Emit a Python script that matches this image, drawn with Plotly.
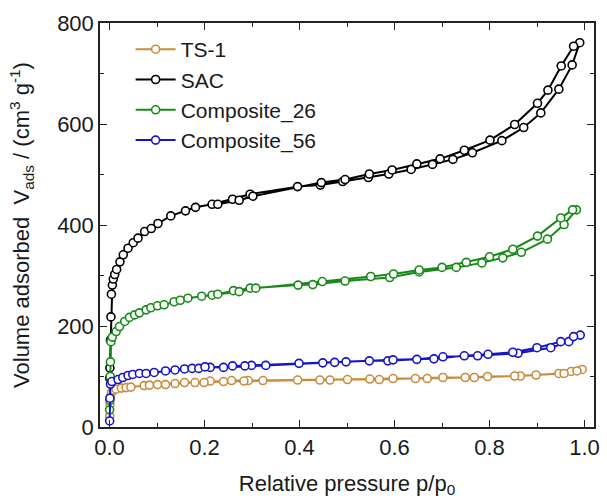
import plotly.graph_objects as go

# N2 physisorption isotherms: adsorption branch (increasing p/p0) and desorption branch
ts1_ads_p = [0.0005, 0.001, 0.002, 0.004, 0.008, 0.014, 0.025, 0.035, 0.045, 0.073, 0.101, 0.138,
             0.180, 0.212, 0.257, 0.292, 0.396, 0.464, 0.548, 0.597, 0.669, 0.749, 0.796, 0.865,
             0.898, 0.946, 0.972, 0.995]
ts1_ads_v = [22, 45, 60, 68, 73, 75, 77, 78, 79, 82, 84, 86, 88, 91, 92, 92, 93, 93, 95, 96, 96,
             98, 100, 101, 103, 106, 110, 114]
ts1_des_p = [0.984, 0.957, 0.853, 0.768, 0.702, 0.644, 0.568, 0.501, 0.443, 0.323, 0.283, 0.240,
             0.199, 0.158, 0.118, 0.084]
ts1_des_v = [111, 106, 101, 98, 98, 96, 94, 94, 93, 92, 91, 90, 88, 88, 84, 83]

sac_ads_p = [0.0003, 0.0008, 0.002, 0.003, 0.004, 0.006, 0.008, 0.011, 0.015, 0.022, 0.029, 0.039,
             0.050, 0.060, 0.074, 0.088, 0.102, 0.129, 0.160, 0.181, 0.216, 0.259, 0.296, 0.396,
             0.444, 0.491, 0.545, 0.588, 0.635, 0.680, 0.723, 0.764, 0.826, 0.872, 0.908, 0.946,
             0.974, 0.990]
sac_ads_v = [97, 117, 172, 218, 263, 281, 293, 302, 312, 327, 341, 354, 365, 374, 387, 393, 403,
             418, 428, 435, 441, 451, 461, 476, 479, 486, 494, 501, 510, 520, 530, 543, 567, 593,
             622, 669, 717, 761]
sac_des_p = [0.977, 0.951, 0.923, 0.901, 0.853, 0.801, 0.747, 0.696, 0.647, 0.595, 0.547, 0.496,
             0.446, 0.302, 0.273, 0.228]
sac_des_v = [754, 715, 667, 641, 599, 568, 548, 531, 521, 509, 501, 490, 484, 457, 449, 441]

c26_ads_p = [0.0003, 0.0008, 0.0015, 0.002, 0.003, 0.006, 0.014, 0.021, 0.032, 0.042, 0.053,
             0.063, 0.077, 0.087, 0.101, 0.115, 0.136, 0.149, 0.165, 0.194, 0.216, 0.261, 0.296,
             0.397, 0.428, 0.496, 0.590, 0.652, 0.730, 0.784, 0.828, 0.867, 0.922, 0.957, 0.983]
c26_ads_v = [34, 53, 100, 129, 169, 178, 189, 199, 209, 217, 222, 226, 232, 236, 240, 242, 248,
             251, 255, 259, 261, 270, 275, 281, 282, 289, 296, 307, 316, 325, 335, 346, 372, 401,
             430]
c26_des_p = [0.975, 0.950, 0.901, 0.849, 0.800, 0.751, 0.700, 0.652, 0.598, 0.550, 0.448, 0.308,
             0.273, 0.228]
c26_des_v = [430, 414, 378, 352, 337, 326, 316, 311, 303, 298, 288, 275, 268, 263]

c56_ads_p = [0.0003, 0.0008, 0.002, 0.005, 0.018, 0.028, 0.039, 0.049, 0.063, 0.077, 0.094,
             0.118, 0.138, 0.158, 0.174, 0.188, 0.212, 0.259, 0.299, 0.399, 0.474, 0.547, 0.586,
             0.647, 0.702, 0.775, 0.860, 0.929, 0.967, 0.991]
c56_ads_v = [12, 57, 85, 90, 94, 98, 102, 104, 106, 106, 108, 111, 113, 115, 116, 116, 118, 121,
             122, 126, 128, 131, 131, 134, 139, 141, 146, 157, 169, 182]
c56_des_p = [0.977, 0.950, 0.900, 0.849, 0.797, 0.747, 0.683, 0.597, 0.498, 0.449, 0.329, 0.285,
             0.240, 0.201]
c56_des_v = [179, 169, 157, 148, 144, 141, 135, 133, 129, 127, 122, 121, 118, 119]

series = [
    ("TS-1", ts1_ads_p, ts1_ads_v, ts1_des_p, ts1_des_v, "#C98B3E"),
    ("SAC", sac_ads_p, sac_ads_v, sac_des_p, sac_des_v, "#000000"),
    ("Composite_26", c26_ads_p, c26_ads_v, c26_des_p, c26_des_v, "#178A17"),
    ("Composite_56", c56_ads_p, c56_ads_v, c56_des_p, c56_des_v, "#1515C8"),
]

FONT = "Liberation Sans, Arial, sans-serif"

fig = go.Figure()
for name, ap, av, dp, dv, col in series:
    # adsorption then desorption as one closed hysteresis path
    fig.add_trace(go.Scatter(
        x=ap + dp, y=av + dv, name=name, mode="lines+markers",
        line=dict(color=col, width=2),
        marker=dict(symbol="circle", size=8, color="white", line=dict(color=col, width=1.6)),
    ))

axis_common = dict(
    showline=True, linecolor="#222222", linewidth=1.5, mirror="ticks",
    ticks="inside", ticklen=7, tickwidth=1.3, tickcolor="#222222",
    showgrid=False, zeroline=False,
    tickfont=dict(family=FONT, size=22, color="#1a1a1a"),
)

fig.update_xaxes(
    range=[-0.02, 1.02], dtick=0.2, tick0=0, tickformat=".1f",
    minor=dict(ticks="inside", ticklen=4, dtick=0.1, tickcolor="#222222", tickwidth=1.2),
    title=dict(text="Relative pressure p/p<sub>0</sub>", font=dict(family=FONT, size=22, color="#1a1a1a"),
               standoff=16),
    **axis_common,
)
fig.update_yaxes(
    range=[0, 800], dtick=200, tick0=0,
    minor=dict(ticks="inside", ticklen=4, dtick=100, tickcolor="#222222", tickwidth=1.2),
    title=dict(text="Volume adsorbed  V<sub>ads</sub> / (cm<sup>3</sup> g<sup>-1</sup>)",
               font=dict(family=FONT, size=22, color="#1a1a1a"), standoff=21),
    **axis_common,
)

fig.update_layout(
    width=607, height=502,
    margin=dict(l=100, r=7, t=23, b=75),
    plot_bgcolor="white", paper_bgcolor="white",
    showlegend=True,
    legend=dict(x=0.062, y=0.985, xanchor="left", yanchor="top",
                bgcolor="rgba(0,0,0,0)", font=dict(family=FONT, size=21, color="#1a1a1a"),
                tracegroupgap=0, itemwidth=40),
)

fig.write_html("out.html")
